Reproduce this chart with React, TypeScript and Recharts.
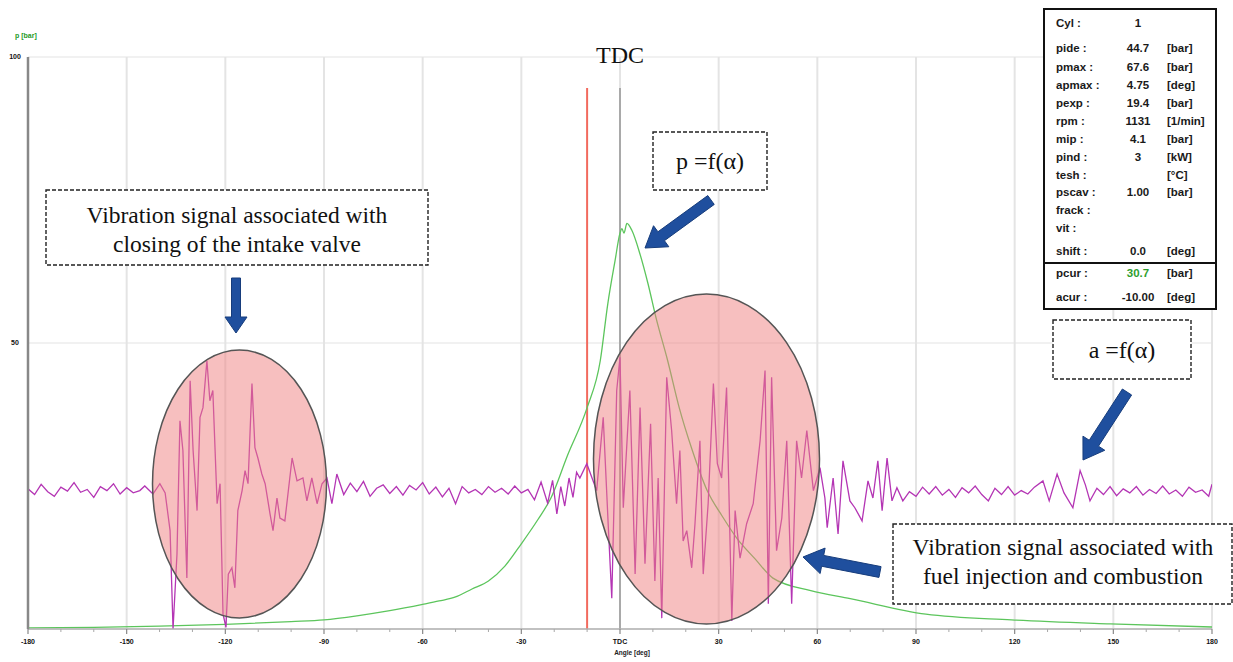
import React from "react";
import { LineChart, Line, XAxis, YAxis, CartesianGrid, ReferenceLine } from "recharts";

// ---------- axis data ----------
const ANGLE_TICKS = [
  -180, -170, -160, -150, -140, -130, -120, -110, -100, -90, -80, -70, -60, -50, -40, -30, -20, -10,
  0, 10, 20, 30, 40, 50, 60, 70, 80, 90, 100, 110, 120, 130, 140, 150, 160, 170, 180,
];
const MAJOR_TICKS = [-180, -150, -120, -90, -60, -30, 0, 30, 60, 90, 120, 150, 180];
const MAJOR_LABELS = ["-180", "-150", "-120", "-90", "-60", "-30", "TDC", "30", "60", "90", "120", "150", "180"];
const Y_TICKS = [50, 100];
const Y_LABELS = ["50", "100"];

// ---------- cylinder pressure p = f(alpha) ----------
const P_ANGLE = [
  -180, -160, -140, -120, -100, -90, -80, -70, -60, -55, -50, -45, -40, -35, -30, -25, -21, -16, -10, -6,
  -3.7, -1.5, 0, 0.6, 1.2, 2.1, 3.6, 6, 8.5, 11, 14.5, 18, 22, 26.5, 31, 35.5, 41, 46.5, 58, 70, 93, 119, 149, 180,
];
const P_BAR = [
  0.2, 0.3, 0.5, 0.8, 1.3, 1.6, 2.3, 3.2, 4.3, 4.9, 5.6, 7.0, 8.4, 11.0, 14.9, 19.1, 22.9, 30.3, 38.7, 46.9,
  56.9, 64.4, 69.2, 70.0, 69.2, 70.9, 69.7, 65.7, 60.4, 54.3, 46.9, 38.7, 31.2, 24.2, 19.8, 15.9, 12.3, 8.9, 6.7, 5.3,
  2.6, 1.6, 0.9, 0.35,
];

// ---------- vibration signal a = f(alpha) ----------
const A_ANGLE = [
  -180, -178, -176, -174, -172, -170, -168, -166, -164, -162, -160, -158, -156, -154, -152, -150, -148, -146,
  -144.5, -142, -139.9, -138.3, -136.8, -135.9, -134.7, -133.8, -132.9, -131.7, -130.7, -129.8, -128.6, -127.7,
  -126.8, -125.6, -124.7, -123.8, -122.5, -121.6, -120.7, -119.8, -119.1, -118.0, -117.1, -116.2, -114.9, -114.0,
  -113.1, -111.9, -111.0, -110.1, -108.9, -107.9, -106.4, -105.5, -104.3, -103.4, -101.9, -99.7, -98.2, -96.4,
  -95.2, -93.7, -92.1, -90.6, -89.1, -87.6, -86.1,
  -84, -82, -80, -78, -76, -74, -72, -70, -68, -66, -64, -62, -60, -58, -56, -54, -52, -50, -48, -46, -44, -42,
  -40, -38, -36, -34, -32, -30, -28, -26, -24, -22, -20.5, -19.2, -18, -16.8, -15.5, -14.3, -13.2,
  -12.2, -10.1, -7.1, -5.1, -3.6, -2.5, -1.0, 0.0, 1.0, 3.0, 4.6, 6.1, 7.6, 9.3, 10.6, 11.6, 12.7, 14.2, 15.7,
  17.2, 18.2, 19.2, 20.3, 21.8, 22.8, 24.3, 25.3, 26.8, 28.4, 29.6, 30.9, 32.4, 34.0, 35.0, 36.5, 38.5, 40.5,
  42.6, 44.1, 45.1, 46.1, 47.6, 49.2, 50.7, 52.2, 53.7, 55.2, 56.8, 58.8, 60.8, 62.3, 63.0, 64.8, 66.3, 67.8,
  69.9, 71.4, 73.6, 75.4, 76.9, 78.4, 79.7, 81.2, 82.7, 84.2, 86.0,
  88, 90, 92, 94, 96, 98, 100, 102, 104, 106, 108, 110, 112, 114, 116, 118, 120, 122, 124, 126, 128.6, 130.5,
  132.9, 135, 137.7, 139.9, 141.5, 142.9, 145, 147, 149, 151, 153, 155, 157, 159, 161, 163, 165, 167, 169, 171,
  173, 175, 177, 179, 180,
];
const A_VALUE = [
  24.5, 23.5, 25.3, 24.0, 23.2, 24.8, 24.1, 25.6, 23.9, 24.4, 23.0, 24.9, 24.2, 25.4, 23.6, 24.7, 23.8, 24.2,
  25.0, 23.6, 25.4, 23.8, 17.2, 0.0, 13.1, 36.4, 31.2, 8.9, 43.4, 31.2, 20.7, 37.0,
  38.7, 46.9, 39.9, 41.7, 21.9, 25.4, 2.6, 0.3, 9.6, 10.7, 7.2, 20.7, 24.2, 27.7,
  25.4, 42.9, 31.7, 29.9, 27.1, 25.4, 20.1, 17.2, 22.9, 19.4, 18.9, 29.9, 25.9, 26.4,
  22.4, 26.4, 21.9, 25.4, 26.4, 21.9, 27.1,
  23.5, 25.5, 24.0, 25.8, 23.2, 24.6, 25.2, 23.7, 24.9, 23.4, 25.1, 24.3, 25.6, 23.6, 24.8, 23.1, 24.6, 21.9, 24.9, 23.8, 24.4, 23.5,
  24.9, 23.9, 24.6, 23.6, 25.0, 23.8, 24.4, 22.6, 25.7, 22.0, 26.0, 20.1, 24.9, 21.5, 26.4, 23.0, 27.4,
  26.4, 28.9, 24.2, 37.0, 18.4, 5.4, 41.7, 47.5, 21.2, 41.7, 9.6, 38.7, 11.4, 35.9, 8.4, 26.4, 1.9, 44.0, 34.7,
  21.9, 31.2, 15.4, 17.2, 10.7, 18.4, 32.9, 9.6, 21.9, 42.9, 28.9, 26.4, 42.2, 1.4, 20.7, 12.4, 18.4, 21.9,
  32.9, 45.2, 4.4, 44.0, 13.7, 19.4, 32.9, 4.4, 32.9, 26.4, 34.7, 24.2, 28.2, 22.9, 17.7, 26.4, 16.6, 29.4,
  22.4, 21.2, 18.9, 25.9, 22.9, 29.4, 20.7, 29.9, 22.4, 24.7, 22.4,
  24.0, 23.2, 24.8, 23.6, 24.9, 23.4, 24.4, 23.0, 24.7, 23.8, 25.0, 23.5, 22.4, 24.6, 23.5, 24.9, 23.4, 24.2, 23.6, 24.8, 25.9, 22.4,
  27.1, 23.8, 21.2, 27.7, 25.2, 22.4, 24.6, 23.5, 24.9, 23.3, 24.5, 23.8, 24.9, 23.4, 24.4, 23.7, 25.0, 23.6, 24.3, 23.2,
  24.8, 23.9, 24.3, 23.2, 25.3,
];

// ---------- info table ----------
const TABLE_LABELS = ["Cyl :", "pide :", "pmax :", "apmax :", "pexp :", "rpm :", "mip :", "pind :", "tesh :", "pscav :", "frack :", "vit :", "shift :", "pcur :", "acur :"];
const TABLE_VALUES = ["1", "44.7", "67.6", "4.75", "19.4", "1131", "4.1", "3", "", "1.00", "", "", "0.0", "30.7", "-10.00"];
const TABLE_UNITS = ["", "[bar]", "[bar]", "[deg]", "[bar]", "[1/min]", "[bar]", "[kW]", "[°C]", "[bar]", "", "", "[deg]", "[bar]", "[deg]"];

const TDC_ANGLE = 0;
const CURSOR_ANGLE = -10;

const pressureData = P_ANGLE.map((angle, i) => ({ angle, p: P_BAR[i] }));
const vibrationData = A_ANGLE.map((angle, i) => ({ angle, a: A_VALUE[i] }));

const W = 1233;
const H = 662;

const SANS = "'Liberation Sans', Arial, sans-serif";
const SERIF = "'Liberation Serif', 'Times New Roman', serif";

const AngleTick = (props: any) => {
  const { x, y, payload } = props;
  const idx = MAJOR_TICKS.indexOf(payload.value);
  if (idx < 0) {
    return <line x1={x} x2={x} y1={y} y2={y + 3} stroke="#a8a8a8" strokeWidth={1} />;
  }
  return (
    <g>
      <line x1={x} x2={x} y1={y} y2={y + 5} stroke="#888" strokeWidth={1.2} />
      <text x={x} y={y + 15} textAnchor="middle" fontSize={7} fontWeight="bold" fontFamily={SANS} fill="#111">
        {MAJOR_LABELS[idx]}
      </text>
    </g>
  );
};

const ValueTick = (props: any) => {
  const { x, y, payload } = props;
  const idx = Y_TICKS.indexOf(payload.value);
  return (
    <text x={x - 13} y={y} dy={2} textAnchor="middle" fontSize={7} fontWeight="bold" fontFamily={SANS} fill="#111">
      {idx >= 0 ? Y_LABELS[idx] : ""}
    </text>
  );
};

function arrowPoints(x1: number, y1: number, x2: number, y2: number, sw: number, hw: number, hl: number) {
  const dx = x2 - x1;
  const dy = y2 - y1;
  const L = Math.hypot(dx, dy);
  const ux = dx / L;
  const uy = dy / L;
  const nx = -uy;
  const ny = ux;
  const bx = x2 - ux * hl;
  const by = y2 - uy * hl;
  const pts = [
    [x1 + (nx * sw) / 2, y1 + (ny * sw) / 2],
    [bx + (nx * sw) / 2, by + (ny * sw) / 2],
    [bx + (nx * hw) / 2, by + (ny * hw) / 2],
    [x2, y2],
    [bx - (nx * hw) / 2, by - (ny * hw) / 2],
    [bx - (nx * sw) / 2, by - (ny * sw) / 2],
    [x1 - (nx * sw) / 2, y1 - (ny * sw) / 2],
  ];
  return pts.map((p) => p.join(",")).join(" ");
}

const Arrow = ({ x1, y1, x2, y2, sw = 11, hw = 26, hl = 20 }: any) => (
  <polygon points={arrowPoints(x1, y1, x2, y2, sw, hw, hl)} fill="#1f4f9e" stroke="#173d7c" strokeWidth={1} />
);

const DashedBox = ({ x, y, w, h }: any) => (
  <rect x={x} y={y} width={w} height={h} fill="#fff" stroke="#222" strokeWidth={1.4} strokeDasharray="4 2" />
);

const ROW_Y = [23, 48, 67, 85, 103, 121, 139, 157, 175, 192, 210, 228, 251, 273, 297];

export default function App() {
  return (
    <div style={{ position: "absolute", left: 0, top: 0, width: W, height: H, background: "#fff", overflow: "hidden" }}>
      <LineChart width={W} height={H} margin={{ top: 57, right: 21, bottom: 0, left: 0 }}>
        <CartesianGrid vertical={false} stroke="#ededed" strokeWidth={1.5} />
        {MAJOR_TICKS.slice(1).map((t) => (
          <ReferenceLine key={t} x={t} stroke="#e4e4e4" strokeWidth={2} />
        ))}
        <XAxis
          dataKey="angle"
          type="number"
          domain={[-180, 180]}
          ticks={ANGLE_TICKS}
          interval={0}
          allowDataOverflow
          height={33}
          tickSize={0}
          tickMargin={0}
          tickLine={false}
          axisLine={{ stroke: "#b0b0b0", strokeWidth: 1.5 }}
          tick={<AngleTick />}
        />
        <YAxis
          type="number"
          domain={[0, 100]}
          ticks={Y_TICKS}
          allowDataOverflow
          width={28}
          tickSize={0}
          tickMargin={0}
          tickLine={false}
          axisLine={{ stroke: "#888", strokeWidth: 2.5 }}
          tick={<ValueTick />}
        />
        <ReferenceLine
          segment={[{ x: CURSOR_ANGLE, y: 94.6 }, { x: CURSOR_ANGLE, y: 0 }]}
          stroke="#f26a5e"
          strokeWidth={2}
        />
        <ReferenceLine
          segment={[{ x: TDC_ANGLE, y: 94.6 }, { x: TDC_ANGLE, y: 0 }]}
          stroke="#9a9a9a"
          strokeWidth={1.6}
        />
        <Line
          data={pressureData}
          dataKey="p"
          type="monotone"
          stroke="#5cc55c"
          strokeWidth={1.3}
          dot={false}
          isAnimationActive={false}
        />
        <Line
          data={vibrationData}
          dataKey="a"
          type="linear"
          stroke="#b435b4"
          strokeWidth={1.3}
          dot={false}
          isAnimationActive={false}
        />
      </LineChart>

      <svg width={W} height={H} style={{ position: "absolute", left: 0, top: 0, pointerEvents: "none" }}>
        {/* highlighted regions */}
        <ellipse cx={239.5} cy={484} rx={87} ry={134} fill="#f08080" fillOpacity={0.5} stroke="#555" strokeWidth={1.5} />
        <ellipse cx={706.5} cy={459} rx={113} ry={165} fill="#f08080" fillOpacity={0.5} stroke="#555" strokeWidth={1.5} />

        {/* axis captions */}
        <text x={15} y={38} fontSize={7} fontWeight="bold" fill="#1f9a1f" fontFamily={SANS}>p [bar]</text>
        <text x={632} y={655} textAnchor="middle" fontSize={6.5} fontWeight="bold" fill="#222" fontFamily={SANS}>Angle [deg]</text>
        <text x={620} y={63} textAnchor="middle" fontSize={24} fill="#111" fontFamily={SERIF}>TDC</text>

        {/* annotation 1 */}
        <DashedBox x={46} y={190} w={382} h={75} />
        <text x={237} y={223} textAnchor="middle" fontSize={23.5} fill="#111" fontFamily={SERIF}>Vibration signal associated with</text>
        <text x={237} y={252} textAnchor="middle" fontSize={23.5} fill="#111" fontFamily={SERIF}>closing of the intake valve</text>
        <Arrow x1={236} y1={278} x2={236} y2={333} sw={9} hw={22} hl={16} />

        {/* annotation p */}
        <DashedBox x={653} y={132} w={114} h={58} />
        <text x={710} y={169} textAnchor="middle" fontSize={24} fill="#111" fontFamily={SERIF}>p =f(α)</text>
        <Arrow x1={711} y1={200} x2={645} y2={248} />

        {/* annotation a */}
        <DashedBox x={1053} y={320} w={138} h={59} />
        <text x={1122} y={358} textAnchor="middle" fontSize={24} fill="#111" fontFamily={SERIF}>a =f(α)</text>
        <Arrow x1={1127} y1={392} x2={1083} y2={460} />

        {/* annotation combustion */}
        <DashedBox x={893} y={524} w={339} h={80} />
        <text x={1063} y={555} textAnchor="middle" fontSize={23.5} fill="#111" fontFamily={SERIF}>Vibration signal associated with</text>
        <text x={1063} y={584} textAnchor="middle" fontSize={23.5} fill="#111" fontFamily={SERIF}>fuel injection and combustion</text>
        <Arrow x1={880} y1={572} x2={803} y2={557} />

        {/* info table */}
        <rect x={1044} y={9} width={172} height={300} fill="#fff" stroke="#111" strokeWidth={2} />
        <line x1={1044} x2={1216} y1={263} y2={263} stroke="#111" strokeWidth={2} />
        {TABLE_LABELS.map((lab, i) => (
          <g key={lab}>
            <text x={1056} y={ROW_Y[i]} dy={4} fontSize={11.5} fontWeight="bold" fill="#1a1a1a" fontFamily={SANS}>{lab}</text>
            <text x={1138} y={ROW_Y[i]} dy={4} textAnchor="middle" fontSize={11.5} fontWeight="bold" fill={lab === "pcur :" ? "#2e9e2e" : "#1a1a1a"} fontFamily={SANS}>{TABLE_VALUES[i]}</text>
            <text x={1167} y={ROW_Y[i]} dy={4} fontSize={11.5} fontWeight="bold" fill="#1a1a1a" fontFamily={SANS}>{TABLE_UNITS[i]}</text>
          </g>
        ))}
      </svg>
    </div>
  );
}
